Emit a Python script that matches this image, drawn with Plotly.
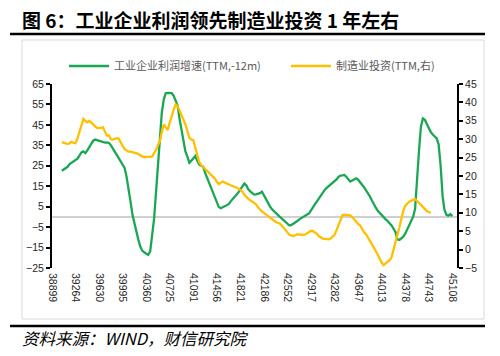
import pandas as pd
import plotly.graph_objects as go

# Industrial profit growth (TTM, shifted -12m), left axis, monthly from 2006-11
profit = [22.6, 23.2, 23.6, 24.5, 25.8, 26.5, 27, 27.5, 28.5, 30, 31.5, 32, 31.2, 32.5, 34, 35.5,
          37.3, 37.8, 37.5, 37, 36.6, 36.5, 36.3, 36.4, 36.1, 35, 33, 31.9, 30.3, 28.6, 27.2, 25.5,
          24, 19.5, 14.3, 7.5, 1, -3.5, -7.6, -11, -14.5, -16.5, -17.3, -18, -18.6, -17, -8, -1,
          12, 27, 40, 51, 57.5, 60.5, 60.7, 60.7, 60.5, 59.2, 56.8, 54.5, 48, 43, 37, 32,
          29.5, 26.5, 27.5, 28.8, 29.8, 27.5, 25.6, 25, 24.6, 21.5, 19, 16.5, 14.5, 11.8, 9.5, 7,
          4.8, 4.2, 4.6, 5.2, 5.6, 6.2, 7.6, 8.8, 9.6, 10.8, 12, 13.5, 15, 16.3, 15.5, 13.5,
          12.5, 11.5, 10.9, 11, 11.2, 11.6, 12.3, 10.5, 8.5, 6.8, 5.3, 3.8, 2.8, 1.8, 0.8, 0.1,
          -0.7, -1.6, -2.5, -3.5, -4.2, -3.9, -3.4, -2.8, -2, -1.2, -0.5, 0.1, 0.6, 1.2, 1.7, 3,
          4.8, 6.2, 7.6, 9.2, 10.6, 12.2, 13.3, 14.2, 15.1, 15.8, 16.4, 17.4, 18.3, 19.6, 20.2, 20.3,
          20.5, 19.5, 18.3, 17.3, 17.8, 18.5, 18.9, 18.2, 17, 16, 14.5, 13, 11.6, 10, 8, 6,
          4.5, 3, 1.8, 1, 0, -1.2, -2, -3, -4.2, -5.8, -7.5, -11, -11.3, -10.5, -9.7, -8.2,
          -6.2, -4.2, -2.2, 0.1, 4, 20, 33, 44, 48.2, 47.5, 45.5, 43.3, 41.5, 40.3, 39.2, 38.4,
          35.5, 25, 10, 3.5, 1, 0.6, 1.4, 0.3]

# Manufacturing investment (TTM), right axis, monthly from 2006-11
invest = [29.2, 29, 28.8, 28.7, 28.9, 29.3, 29, 28.9, 30.2, 32, 34.2, 35.5, 35, 34.6, 35, 34.5,
          33.8, 33.3, 33, 33, 33.2, 33.2, 32, 31, 31, 30, 29.9, 30.2, 30.3, 30.2, 29, 28.2,
          27.3, 26.9, 26.6, 26.6, 26.5, 26.4, 26.3, 26, 25.6, 25.3, 25.1, 25.2, 25.1, 25.2, 25.3, 26.2,
          27.1, 28.4, 29.5, 32, 34, 33.2, 32.5, 34.5, 36.5, 38, 39.5, 39, 37.8, 36.6, 35.3, 34,
          32.2, 30.4, 29.9, 29.8, 27.7, 25.5, 23.8, 23, 22.5, 22, 21.5, 21, 20.5, 20, 19.3, 18.4,
          17.8, 18.2, 18.5, 18.2, 17.9, 17.7, 17.5, 17.3, 17.1, 16.9, 16.6, 16.2, 15.8, 14.9, 14.2, 13.8,
          13.4, 13.1, 12.8, 12.3, 11.5, 10.8, 10.4, 10, 9.6, 9.1, 8.7, 8.3, 7.8, 7.5, 7.3, 7.1,
          6.6, 5.9, 5.1, 4.4, 4, 3.8, 3.7, 3.9, 4.2, 4.1, 4, 4, 4.1, 4.4, 4.8, 5.1,
          5, 4.7, 4.3, 3.6, 3.2, 3, 2.9, 2.8, 2.8, 3, 3.4, 4, 5.3, 6.8, 8.3, 9.4,
          9.5, 9.4, 9.4, 9.3, 8.8, 8.1, 7.6, 7, 6.6, 5.6, 4.7, 4.2, 3.3, 2.6, 1.8, 0.8,
          -0.4, -1.4, -2.5, -3.6, -4.2, -3.6, -3.3, -2.9, -2.1, 0, 1.8, 4, 6, 8.3, 10.5, 11.9,
          12.5, 13, 13.3, 13.6, 13.7, 13.2, 12.8, 12.2, 11.6, 11, 10.5, 10.2, 10]

x_tick_labels = ["38899", "39264", "39630", "39995", "40360", "40725", "41091", "41456", "41821",
                 "42186", "42552", "42917", "43282", "43647", "44013", "44378", "44743", "45108"]

start = "2006-11-30"
epoch = pd.Timestamp("1899-12-30")
d1 = pd.date_range(start=start, periods=len(profit), freq="ME")
d2 = pd.date_range(start=start, periods=len(invest), freq="ME")
x1 = [(d - epoch).days for d in d1]
x2 = [(d - epoch).days for d in d2]

GREEN = "#1AA753"
GOLD = "#FFC000"

fig = go.Figure()
fig.add_trace(go.Scatter(x=x1, y=profit, mode="lines", name="工业企业利润增速(TTM,-12m)",
                         line=dict(color=GREEN, width=2.3), legend="legend"))
fig.add_trace(go.Scatter(x=x2, y=invest, mode="lines", name="制造业投资(TTM,右)",
                         line=dict(color=GOLD, width=2.3), yaxis="y2", legend="legend2"))

tick_font = dict(family="Liberation Sans, Arial, sans-serif", size=10.5, color="#262626")

L, R, T, B = 52, 43, 84, 88
W, H = 500, 356
pw, ph = W - L - R, H - T - B

def px(x):
    return (x - L) / pw

def py(y):
    return (H - B - y) / ph

leg_font = dict(family="Noto Sans CJK SC, sans-serif", size=11, color="#595959")

fig.update_layout(
    width=W, height=H,
    margin=dict(l=L, r=R, t=T, b=B, autoexpand=False),
    paper_bgcolor="white", plot_bgcolor="white",
    showlegend=True,
    legend=dict(orientation="h", x=px(64), y=py(66), xanchor="left", yanchor="middle",
                font=leg_font, bgcolor="rgba(0,0,0,0)", itemwidth=40),
    legend2=dict(orientation="h", x=px(286), y=py(66), xanchor="left", yanchor="middle",
                 font=leg_font, bgcolor="rgba(0,0,0,0)", itemwidth=40),
    xaxis=dict(range=[38899, 45180], tickmode="array",
               tickvals=[int(v) for v in x_tick_labels], ticktext=x_tick_labels,
               tickangle=90, showgrid=False, showline=False, zeroline=False, ticks="",
               tickfont=tick_font, ticklabelstandoff=4),
    yaxis=dict(range=[-25, 65], tick0=-25, dtick=10, showgrid=False,
               showline=True, linecolor="black", linewidth=2, ticks="outside",
               ticklen=4, tickwidth=1.5, tickcolor="black", tickfont=tick_font,
               zeroline=True, zerolinecolor="#D0D0D0", zerolinewidth=1.5),
    yaxis2=dict(range=[-5, 45], tick0=-5, dtick=5, overlaying="y", side="right",
                showgrid=False, showline=True, linecolor="black", linewidth=2,
                ticks="outside", ticklen=4, tickwidth=1.5, tickcolor="black",
                tickfont=tick_font, zeroline=False),
)

shapes = [
    dict(type="rect", xref="paper", yref="paper", x0=px(22), x1=px(484), y0=py(319), y1=py(40),
         line=dict(color="#D9D9D9", width=1), layer="below"),
    dict(type="line", xref="paper", yref="paper", x0=px(10), x1=px(485), y0=py(34), y1=py(34),
         line=dict(color="black", width=2.5)),
    dict(type="line", xref="paper", yref="paper", x0=px(10), x1=px(485), y0=py(326), y1=py(326),
         line=dict(color="black", width=2.5)),
]
fig.update_layout(shapes=shapes)

fig.add_annotation(xref="paper", yref="paper", x=px(20), y=py(19), xanchor="left", yanchor="middle",
                   text="<b>图 6：工业企业利润领先制造业投资 1 年左右</b>", showarrow=False,
                   font=dict(family="Noto Sans CJK SC, sans-serif", size=19, color="black"))
fig.add_annotation(xref="paper", yref="paper", x=px(20), y=py(338), xanchor="left", yanchor="middle",
                   text="<i>资料来源：WIND，财信研究院</i>", showarrow=False,
                   font=dict(family="Noto Sans CJK SC, serif", size=16.5, color="black"))

fig.write_html("out.html", config={"displayModeBar": False},
               post_script="document.body.style.margin='0';document.body.style.overflow='hidden';")
